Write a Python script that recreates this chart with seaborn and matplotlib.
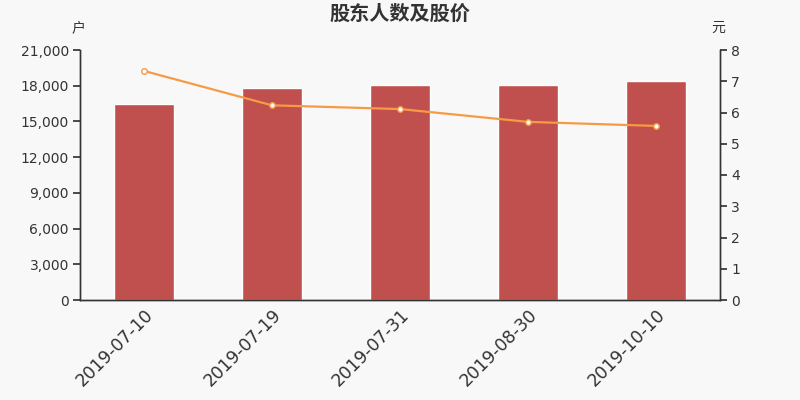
import numpy as np
import matplotlib
matplotlib.use("Agg")
import matplotlib.pyplot as plt
import seaborn as sns

dates = ["2019-07-10", "2019-07-19", "2019-07-31", "2019-08-30", "2019-10-10"]
holders = [16500, 17780, 18020, 18090, 18420]
prices = [7.33, 6.23, 6.11, 5.70, 5.57]

bg = "#f8f8f8"
bar_color = "#c0504d"
line_color = "#f79a45"
axis_color = "#333333"

sns.set_theme(style="white")
plt.rcParams["font.family"] = ["DejaVu Sans", "Noto Sans CJK SC"]

fig = plt.figure(figsize=(8, 4), dpi=100, facecolor=bg)
ax = fig.add_axes([0.1, 0.25, 0.8, 0.625], facecolor=bg)

sns.barplot(x=dates, y=holders, color=bar_color, saturation=1, width=0.47, ax=ax)
ax.set_xlim(-0.5, len(dates) - 0.5)
ax.set_ylim(0, 21000)
ax.set_yticks(np.arange(0, 21001, 3000))
ax.set_yticklabels([f"{v:,}" for v in range(0, 21001, 3000)])
ax.set_xticks(range(len(dates)))
ax.set_xticklabels(dates, rotation=45, ha="right", rotation_mode="anchor", fontsize=12.5, color=axis_color)
ax.set_xticks(np.arange(-0.5, len(dates), 1), minor=True)
ax.tick_params(axis="x", which="major", length=0, pad=4)
ax.tick_params(axis="x", which="minor", length=5, color=axis_color, width=1, direction="out")
ax.tick_params(axis="y", length=5, color=axis_color, labelsize=10, labelcolor=axis_color, left=True, pad=3)
ax.set_xlabel("")
ax.set_ylabel("")

ax2 = ax.twinx()
sns.lineplot(x=np.arange(len(dates)), y=prices, color=line_color, linewidth=1.6, marker="o",
             markersize=4, markerfacecolor="white", markeredgecolor=line_color, markeredgewidth=1, ax=ax2)
ax2.set_ylim(0, 8)
ax2.set_yticks(range(0, 9))
ax2.tick_params(axis="y", length=5, color=axis_color, labelsize=10, labelcolor=axis_color, right=True, pad=3)
ax2.set_ylabel("")

for a in (ax, ax2):
    a.spines["top"].set_visible(False)
    for s in ("left", "right", "bottom"):
        a.spines[s].set_color(axis_color)
        a.spines[s].set_linewidth(1)

fig.text(0.0975, 0.93, "户", ha="center", va="center", fontsize=10, color=axis_color)
fig.text(0.898, 0.93, "元", ha="center", va="center", fontsize=10, color=axis_color)
fig.text(0.5, 0.965, "股东人数及股价", ha="center", va="center", fontsize=14.5, fontweight="bold", color=axis_color)

fig.savefig("out.png", dpi=100, facecolor=bg)
